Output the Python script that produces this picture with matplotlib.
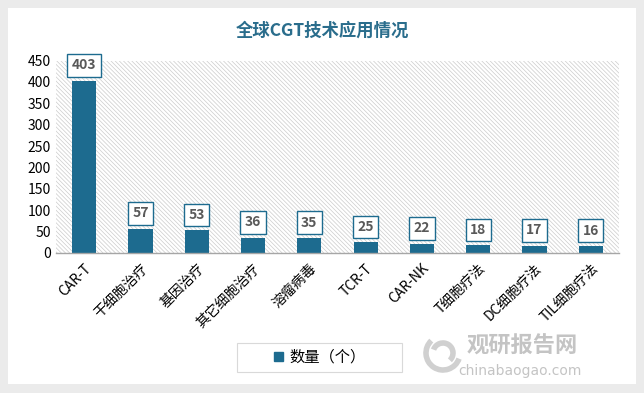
import matplotlib.pyplot as plt
import matplotlib.patches as patches
import numpy as np

plt.rcParams['font.family'] = ['Noto Sans CJK SC', 'DejaVu Sans']
plt.rcParams['hatch.linewidth'] = 0.5

categories = ['CAR-T', '干细胞治疗', '基因治疗', '其它细胞治疗', '溶瘤病毒',
              'TCR-T', 'CAR-NK', 'T细胞疗法', 'DC细胞疗法', 'TIL细胞疗法']
counts = [403, 57, 53, 36, 35, 25, 22, 18, 17, 16]
yticks = [0, 50, 100, 150, 200, 250, 300, 350, 400, 450]

bar_color = '#1d6b8f'
W, H = 644, 393

fig = plt.figure(figsize=(W / 100, H / 100), dpi=100, facecolor='#ebebeb')

# white card
card = patches.Rectangle((8 / W, 1 - 384 / H), 628 / W, 376 / H,
                         transform=fig.transFigure, facecolor='white',
                         edgecolor='none', zorder=-10)
fig.patches.append(card)

fig.text(0.5, 1 - 31 / H, '全球CGT技术应用情况', ha='center', va='center',
         fontsize=12.5, fontweight='bold', color='#2a6d8c')

ax = fig.add_axes([56 / W, 1 - 253 / H, 563 / W, 192.5 / H])
ax.set_facecolor('white')
ax.add_patch(patches.Rectangle((0, 0), 1, 1, transform=ax.transAxes,
                               facecolor='white', edgecolor='#cccccc',
                               linewidth=0, hatch='\\' * 8, zorder=0))

x = np.arange(len(categories))
bars = ax.bar(x, counts, width=0.43, color=bar_color, zorder=2)

for xi, v in zip(x, counts):
    ax.annotate(str(v), (xi, v), xytext=(0, 11), textcoords='offset points',
                ha='center', va='center', fontsize=10, fontweight='bold',
                color='#595959', zorder=3,
                bbox=dict(boxstyle='square,pad=0.32', facecolor='white',
                          edgecolor=bar_color, linewidth=1.0))

ax.set_xlim(-0.5, len(categories) - 0.5)
ax.set_ylim(0, 450)
ax.set_yticks(yticks)
ax.set_xticks(x)
ax.set_xticklabels(categories, rotation=45, ha='right', rotation_mode='anchor',
                   fontsize=10)
ax.tick_params(axis='both', length=0, labelsize=10)
ax.tick_params(axis='x', pad=6)
for s in ['top', 'right', 'left']:
    ax.spines[s].set_visible(False)
ax.spines['bottom'].set_color('#a6a6a6')
ax.spines['bottom'].set_linewidth(1.0)

# legend box
fig.patches.append(patches.Rectangle((237 / W, 1 - 372 / H), 165 / W, 29 / H,
                                     transform=fig.transFigure,
                                     facecolor='white', edgecolor='#d9d9d9',
                                     linewidth=0.8, zorder=1))
handle = patches.Patch(color=bar_color, label='数量（个）')
fig.legend(handles=[handle], loc='center', bbox_to_anchor=(319.5 / W, 1 - 357.5 / H),
           frameon=False, fontsize=11, handlelength=0.6, handleheight=0.6,
           handletextpad=0.4)

# watermark
for r, t1, t2 in [(17, 120, 330), (10, 300, 150)]:
    fig.patches.append(patches.Arc((443 / W, 1 - 353 / H), 2 * r / W, 2 * r / H,
                                   theta1=t1, theta2=t2, transform=fig.transFigure,
                                   color='#d0d0d0', linewidth=4, zorder=1))
fig.text(522 / W, 1 - 346 / H, '观研报告网', ha='center', va='center',
         fontsize=16, fontweight='bold', color='#c4c4c4')
fig.text(520 / W, 1 - 371 / H, 'chinabaogao.com', ha='center', va='center',
         fontsize=10, color='#c4c4c4', family='DejaVu Sans')

fig.savefig('out.png', dpi=100, facecolor=fig.get_facecolor())
